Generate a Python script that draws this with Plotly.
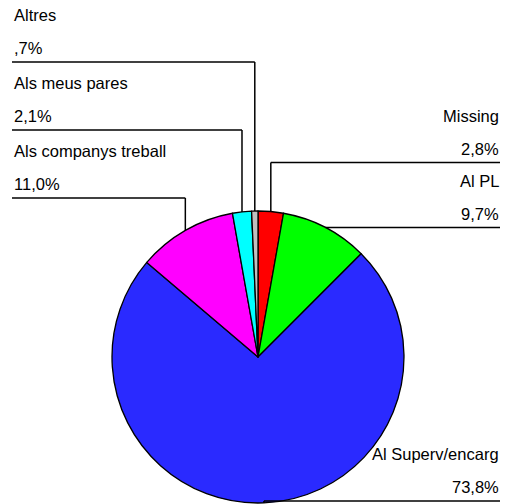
import math
import plotly.graph_objects as go

labels = ["Missing", "Al PL", "Al Superv/encarg", "Als companys treball", "Als meus pares", "Altres"]
values = [2.8, 9.7, 73.8, 11.0, 2.1, 0.7]
colors = ["#FF0000", "#00FF00", "#2A2AFF", "#FF00FF", "#00FFFF", "#C0C0C0"]

W, H = 508, 504
CX, CY, R = 258, 357, 146


def px(x):
    return x / W


def py(y):
    return 1 - y / H


def fmt(v):
    s = f"{v:.1f}".replace(".", ",")
    if s.startswith("0,"):
        s = s[1:]
    return s + "%"


fig = go.Figure()
fig.add_trace(go.Pie(
    labels=labels, values=values, sort=False, direction="clockwise", rotation=0,
    textinfo="none", hoverinfo="none", showlegend=False,
    marker=dict(colors=colors, line=dict(color="black", width=1.3)),
    domain=dict(x=[px(CX - R), px(CX + R)], y=[py(CY + R), py(CY - R)]),
))

# label geometry derived from the slice mid-angles
total = sum(values)
cum = 0
pts = []
for lab, v in zip(labels, values):
    mid = (cum + v / 2) / total * 2 * math.pi
    cum += v
    ex = CX + R * math.sin(mid)
    ey = CY - R * math.cos(mid)
    pts.append((lab, v, ex, ey))

right = sorted([p for p in pts if p[2] >= CX], key=lambda p: -p[3])
left = sorted([p for p in pts if p[2] < CX], key=lambda p: p[3])

placed = []
prev = None
for lab, v, ex, ey in right:
    yl = min(ey, H - 3)
    if prev is not None:
        yl = min(yl, prev - 65)
    prev = yl
    placed.append((lab, v, ex, ey, yl, "right"))

yl = 62
for lab, v, ex, ey in left:
    placed.append((lab, v, ex, ey, yl, "left"))
    yl += 68

shapes = []
annots = []
font = dict(family="Liberation Sans, Arial", size=16.5, color="black")
for lab, v, ex, ey, yl, side in placed:
    xt = 12 if side == "left" else 500
    shapes.append(dict(type="line", xref="paper", yref="paper",
                       x0=px(xt), x1=px(ex), y0=py(yl), y1=py(yl),
                       line=dict(color="black", width=1.5)))
    if abs(yl - ey) > 1:
        shapes.append(dict(type="line", xref="paper", yref="paper",
                           x0=px(ex), x1=px(ex), y0=py(yl), y1=py(ey),
                           line=dict(color="black", width=1.5)))
    anchor = "left" if side == "left" else "right"
    xa = 12 if side == "left" else 501
    annots.append(dict(x=px(xa), y=py(yl - 47), xref="paper", yref="paper", text=lab,
                       showarrow=False, xanchor=anchor, yanchor="middle", font=font))
    annots.append(dict(x=px(xa), y=py(yl - 14), xref="paper", yref="paper", text=fmt(v),
                       showarrow=False, xanchor=anchor, yanchor="middle", font=font))

fig.update_layout(width=W, height=H, margin=dict(l=0, r=0, t=0, b=0),
                  paper_bgcolor="white", plot_bgcolor="white",
                  shapes=shapes, annotations=annots)
fig.write_html("out.html", config={"displayModeBar": False},
               post_script="document.body.style.margin='0';document.body.style.padding='0';")
